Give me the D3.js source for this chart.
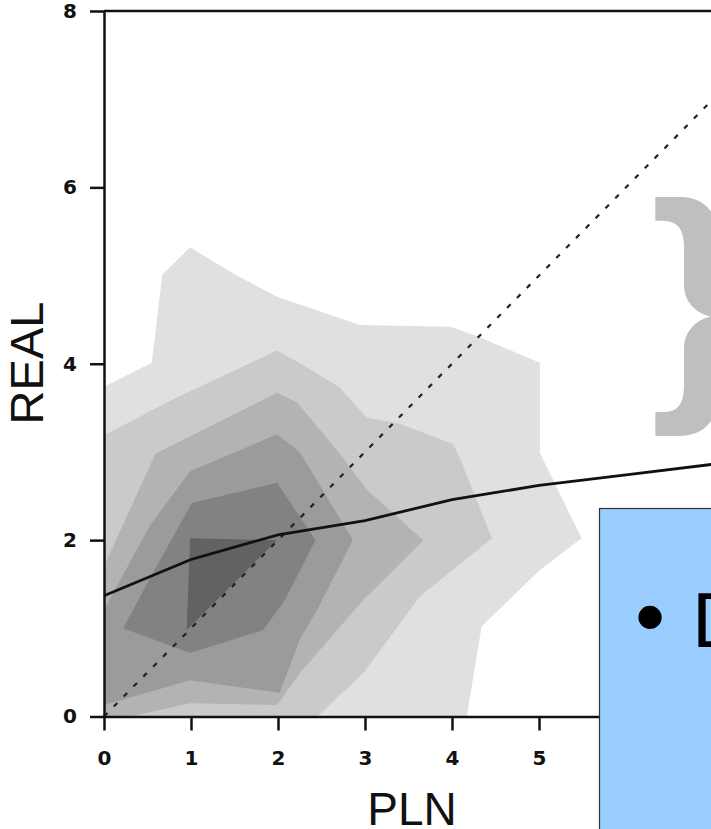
<!DOCTYPE html>
<html>
<head>
<meta charset="utf-8">
<script src="https://cdn.jsdelivr.net/npm/d3@7"></script>
<style>
  body { margin: 0; background: #fff; }
  svg { display: block; }
</style>
</head>
<body>
<div id="chart"></div>
<script>
// axis ticks
const xTicks = [0, 1, 2, 3, 4, 5, 6];
const yTicks = [0, 2, 4, 6, 8];

// filled density contours, outermost first (PLN, REAL)
const level1 = [[0, 0], [0, 3.74], [0.55, 4.01], [0.67, 5.01], [0.99, 5.32], [1.51, 5.01], [1.99, 4.76],
  [2.94, 4.44], [3.98, 4.42], [4.32, 4.30], [5.01, 4.01], [5.01, 2.99], [5.49, 2.02], [5.01, 1.66],
  [4.34, 1.02], [4.17, 0]];
const level2 = [[0, 0], [0, 3.19], [0.84, 3.62], [1.99, 4.15], [2.33, 3.96], [2.71, 3.73], [3.02, 3.39],
  [3.40, 3.32], [4.01, 3.09], [4.09, 2.93], [4.46, 2.02], [3.63, 1.36], [2.98, 0.49], [2.45, 0]];
const level3 = [[0, 0], [0, 1.70], [0.59, 2.98], [1.99, 3.67], [2.22, 3.56], [2.71, 2.98], [3.02, 2.57],
  [3.67, 2.00], [2.98, 1.32], [2.25, 0.49], [1.99, 0.13], [0.99, 0.15], [0.30, 0]];
const level4 = [[0, 0.13], [0, 1.21], [0.53, 2.17], [0.99, 2.78], [1.99, 3.20], [2.25, 3.00], [2.86, 2.00],
  [2.45, 1.21], [2.25, 0.87], [2.02, 0.27], [0.99, 0.41]];
const level5 = [[0.22, 1.00], [0.53, 1.57], [1.01, 2.42], [1.99, 2.65], [2.43, 2.00], [2.08, 1.32],
  [1.83, 0.98], [0.99, 0.72]];
const level6 = [[0.99, 2.02], [1.99, 2.00], [0.95, 0.98]];

// fitted curve
const fitX = [0, 1, 2, 3, 4, 5, 6, 7];
const fitY = [1.37, 1.78, 2.06, 2.22, 2.46, 2.62, 2.74, 2.86];

// y = x reference line
const diagX = [0, 7.2];

const width = 711, height = 829;

const svg = d3.select('#chart').append('svg')
  .attr('width', width)
  .attr('height', height);

const x = d3.scaleLinear().domain([0, 7]).range([104, 713]);
const y = d3.scaleLinear().domain([0, 8]).range([716.5, 11]);

const shades = ['#e0e0e0', '#cacaca', '#b3b3b3', '#9b9b9b', '#828282', '#626262'];
const levels = [level1, level2, level3, level4, level5, level6];

const area = d3.line().x(d => x(d[0])).y(d => y(d[1]));

svg.append('g').attr('class', 'contours')
  .selectAll('path')
  .data(levels)
  .enter()
  .append('path')
  .attr('d', d => area(d) + 'Z')
  .attr('fill', (d, i) => shades[i]);

// y = x
svg.append('line')
  .attr('x1', x(diagX[0])).attr('y1', y(diagX[0]))
  .attr('x2', x(diagX[1])).attr('y2', y(diagX[1]))
  .attr('stroke', '#222')
  .attr('stroke-width', 2.2)
  .attr('stroke-dasharray', '5,9');

// fit
svg.append('path')
  .datum(fitX.map((v, i) => [v, fitY[i]]))
  .attr('d', area)
  .attr('fill', 'none')
  .attr('stroke', '#111')
  .attr('stroke-width', 2.8);

// axes
const fmt = d3.format('d');
svg.append('g')
  .attr('class', 'axis axis-x')
  .attr('transform', `translate(0, ${y(0)})`)
  .call(d3.axisBottom(x).tickValues(xTicks).tickFormat(fmt)
    .tickSize(14).tickSizeOuter(0).tickPadding(20));

svg.append('g')
  .attr('class', 'axis axis-y')
  .attr('transform', `translate(${x(0)}, 0)`)
  .call(d3.axisLeft(y).tickValues(yTicks).tickFormat(fmt)
    .tickSize(14).tickSizeOuter(0).tickPadding(13));

svg.selectAll('.axis path, .axis line')
  .attr('stroke', '#111')
  .attr('stroke-width', 2.5);
svg.selectAll('.axis')
  .attr('font-size', null)
  .attr('font-family', null);
svg.selectAll('.axis text')
  .attr('fill', '#111')
  .attr('font-family', '"DejaVu Sans", sans-serif')
  .attr('font-weight', 'bold')
  .attr('font-size', 20);

// top frame
svg.append('line')
  .attr('x1', x(0)).attr('x2', x(7))
  .attr('y1', y(8)).attr('y2', y(8))
  .attr('stroke', '#111')
  .attr('stroke-width', 2.5);

// axis titles
svg.append('text')
  .attr('transform', 'translate(43, 363) rotate(-90)')
  .attr('text-anchor', 'middle')
  .style('font-family', '"Liberation Sans", Arial, sans-serif')
  .style('font-size', '47px')
  .attr('fill', '#111')
  .text('REAL');

svg.append('text')
  .attr('x', 412).attr('y', 825)
  .attr('text-anchor', 'middle')
  .style('font-family', '"Liberation Sans", Arial, sans-serif')
  .style('font-size', '46px')
  .attr('fill', '#111')
  .text('PLN');

// slide overlay: brace and text box
svg.append('text')
  .attr('x', 650).attr('y', 383)
  .style('font-family', '"Liberation Sans", Arial, sans-serif')
  .style('font-size', '256px')
  .style('font-weight', 'bold')
  .attr('fill', '#bfbfbf')
  .text('}');

svg.append('rect')
  .attr('x', 599.5).attr('y', 508.5)
  .attr('width', 130).attr('height', 340)
  .attr('fill', '#99ccff')
  .attr('stroke', '#333')
  .attr('stroke-width', 1.2);

svg.append('text')
  .attr('x', 635).attr('y', 646)
  .style('font-family', '"Liberation Sans", Arial, sans-serif')
  .style('font-size', '86px')
  .attr('fill', '#000')
  .text('•');

svg.append('text')
  .attr('x', 692).attr('y', 647)
  .style('font-family', '"Liberation Sans", Arial, sans-serif')
  .style('font-size', '78px')
  .attr('fill', '#000')
  .text('D');
</script>
</body>
</html>
